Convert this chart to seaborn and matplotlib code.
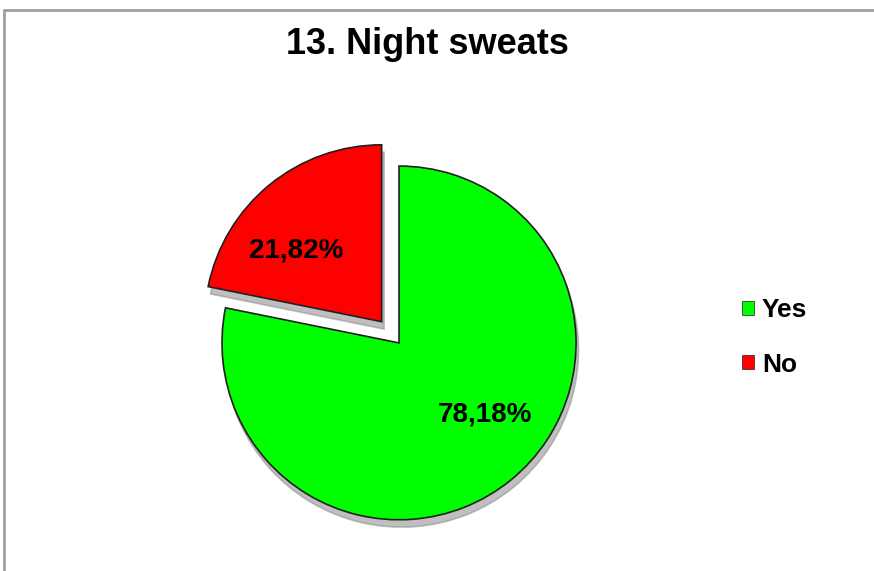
import matplotlib
matplotlib.use("Agg")
import numpy as np
import matplotlib.pyplot as plt
from matplotlib.lines import Line2D
import seaborn as sns

title = "13. Night sweats"
categories = ["Yes", "No"]
values = [78.18, 21.82]
colors = ["#00ff00", "#ff0000"]

sns.set_style("white")
plt.rcParams['font.family'] = ['Liberation Sans', 'DejaVu Sans']

fig = plt.figure(figsize=(8.74, 5.71), dpi=100)
ax = fig.add_axes([0.1831, 0.0123, 0.5469, 0.7898])

wedges, texts, autotexts = ax.pie(
    values, colors=colors, startangle=90, counterclock=False,
    explode=[0, 0.155], pctdistance=0.63,
    autopct=lambda p: f"{p:.2f}%".replace(".", ","),
    wedgeprops={'edgecolor': '#202020', 'linewidth': 1.2},
    shadow={'ox': 0.01, 'oy': -0.03, 'facecolor': '#8c8c8c', 'edgecolor': '#8c8c8c', 'alpha': 0.55},
    textprops={'fontsize': 20, 'fontweight': 'bold', 'color': 'black'},
)
# Excel puts the labels a bit further counter-clockwise than the wedge middle
rot = np.deg2rad(11)
for w, t in zip(wedges, autotexts):
    cx, cy = w.center
    x, y = t.get_position()
    dx, dy = x - cx, y - cy
    t.set_position((cx + dx * np.cos(rot) - dy * np.sin(rot),
                    cy + dx * np.sin(rot) + dy * np.cos(rot)))

ax.set_xlim(-1.35, 1.35)
ax.set_ylim(-1.25, 1.3)
ax.set_aspect('auto')
ax.axis('off')

fig.text(0.489, 0.922, title, ha='center', va='center', fontsize=26, fontweight='bold', color='black')

leg = ax.legend(wedges, categories, loc='center left', bbox_to_anchor=(0.822, 0.409),
                bbox_transform=fig.transFigure, frameon=False, fontsize=19,
                handlelength=0.45, handleheight=0.45, handletextpad=0.3, labelspacing=1.15)
for t in leg.get_texts():
    t.set_fontweight('bold')
    t.set_color('black')
for h in leg.legend_handles:
    h.set_linewidth(0.5)

# outer chart frame (only top and left edges visible in crop)
fig.add_artist(Line2D([0.005, 0.005], [0, 0.982], transform=fig.transFigure, color='#a0a0a0', lw=2))
fig.add_artist(Line2D([0.005, 1.0], [0.982, 0.982], transform=fig.transFigure, color='#a0a0a0', lw=2))

fig.savefig("out.png", dpi=100)
